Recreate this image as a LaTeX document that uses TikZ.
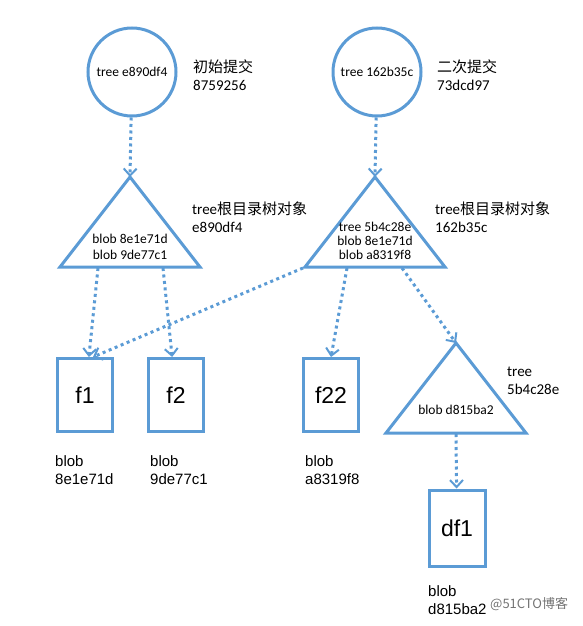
\documentclass[tikz,border=0pt]{standalone}
\usepackage{fontspec}
\setmainfont{Carlito}
\newfontfamily\cjk{Noto Sans CJK SC}
\newfontfamily\arial{Liberation Sans}
\usetikzlibrary{arrows.meta}
\definecolor{objblue}{RGB}{91,155,213}
\tikzset{
    commit/.style={circle,draw=objblue,line width=3pt,minimum size=88pt,inner sep=0pt,font=\fontsize{13.5}{16}\selectfont},
    blobbox/.style={draw=objblue,line width=3pt,minimum width=55pt,minimum height=73pt,inner sep=0pt,font=\arial\fontsize{23}{26}\selectfont},
    treetri/.style={draw=objblue,line width=3pt,line join=miter},
    ptr/.style={draw=objblue,line width=3pt,dash pattern=on 3pt off 3.5pt,-{Straight Barb[length=7pt,width=13pt,line width=2pt]}},
    lbl/.style={anchor=north west,align=left,inner sep=0pt,font=\fontsize{15}{18}\selectfont},
    bloblbl/.style={anchor=north west,align=left,inner sep=0pt,font=\arial\fontsize{15}{18}\selectfont},
    intext/.style={align=center,inner sep=0pt}
}
\begin{document}
\begin{tikzpicture}[x=1pt,y=-1pt]
            \useasboundingbox (0,0) rectangle (582,626);

            % commits
            \node (c1) at (132,72)[commit]{tree e890df4};
            \node (c2) at (377,72)[commit]{tree 162b35c};
            \node (l1) at (193,60)[lbl]{{\cjk 初始提交}\\8759256};
            \node (l2) at (437,60)[lbl]{{\cjk 二次提交}\\73dcd97};

            % tree objects
            \foreach \n/\x/\y in {t1/130/177, t2/375/177, t3/456/343}
            {
                \draw[treetri] (\x,\y) coordinate (\n) -- ++(-70,90) -- ++(140,0) -- cycle;
            }
            \node (i1) at (130,247)[intext,font=\fontsize{13.5}{16}\selectfont]{blob 8e1e71d\\blob 9de77c1};
            \node (i2) at (375,241)[intext,font=\fontsize{13.5}{14}\selectfont]{tree 5b4c28e\\blob 8e1e71d\\blob a8319f8};
            \node (i3) at (456,410)[intext,font=\fontsize{13.5}{16}\selectfont]{blob d815ba2};
            \node (l3) at (192,202)[lbl]{tree{\cjk 根目录树对象}\\e890df4};
            \node (l4) at (435,202)[lbl]{tree{\cjk 根目录树对象}\\162b35c};
            \node (l5) at (507,367)[lbl]{tree\\5b4c28e};

            % blobs
            \foreach \n/\x/\y in {f1/85/395, f2/176/395, f22/331/395}
            {
                \node (\n) at (\x,\y)[blobbox]{\n};
            }
            \node (df1) at (457,528)[blobbox,minimum width=56pt,minimum height=76pt]{df1};

            \foreach \n/\x/\y/\h in {b1/55/455/8e1e71d, b2/150/455/9de77c1, b3/305/455/a8319f8, b4/428/585/d815ba2}
            {
                \node (\n) at (\x,\y)[bloblbl]{blob\\\h};
            }
            \node (wm) at (490,604)[anchor=west,inner sep=0pt,text=black!55,font=\cjk\fontsize{13}{15}\selectfont]{@51CTO博客};

            % pointers
            \coordinate (t1a) at (98,268);
            \coordinate (t1b) at (163,268);
            \coordinate (t2l) at (303,268);
            \coordinate (t2a) at (347,268);
            \coordinate (t2b) at (402,268);
            \coordinate (t3a) at (456,434);

            \draw[ptr] (c1) -- (t1);
            \draw[ptr] (c2) -- (t2);
            \draw[ptr] (t1a) -- (f1);
            \draw[ptr] (t1b) -- (f2);
            \draw[ptr] (t2l) -- ([xshift=8pt]f1.north);
            \draw[ptr] (t2a) -- (f22.north);
            \draw[ptr] (t2b) -- (t3);
            \draw[ptr] (t3a) -- (df1);
        \end{tikzpicture}
\end{document}
